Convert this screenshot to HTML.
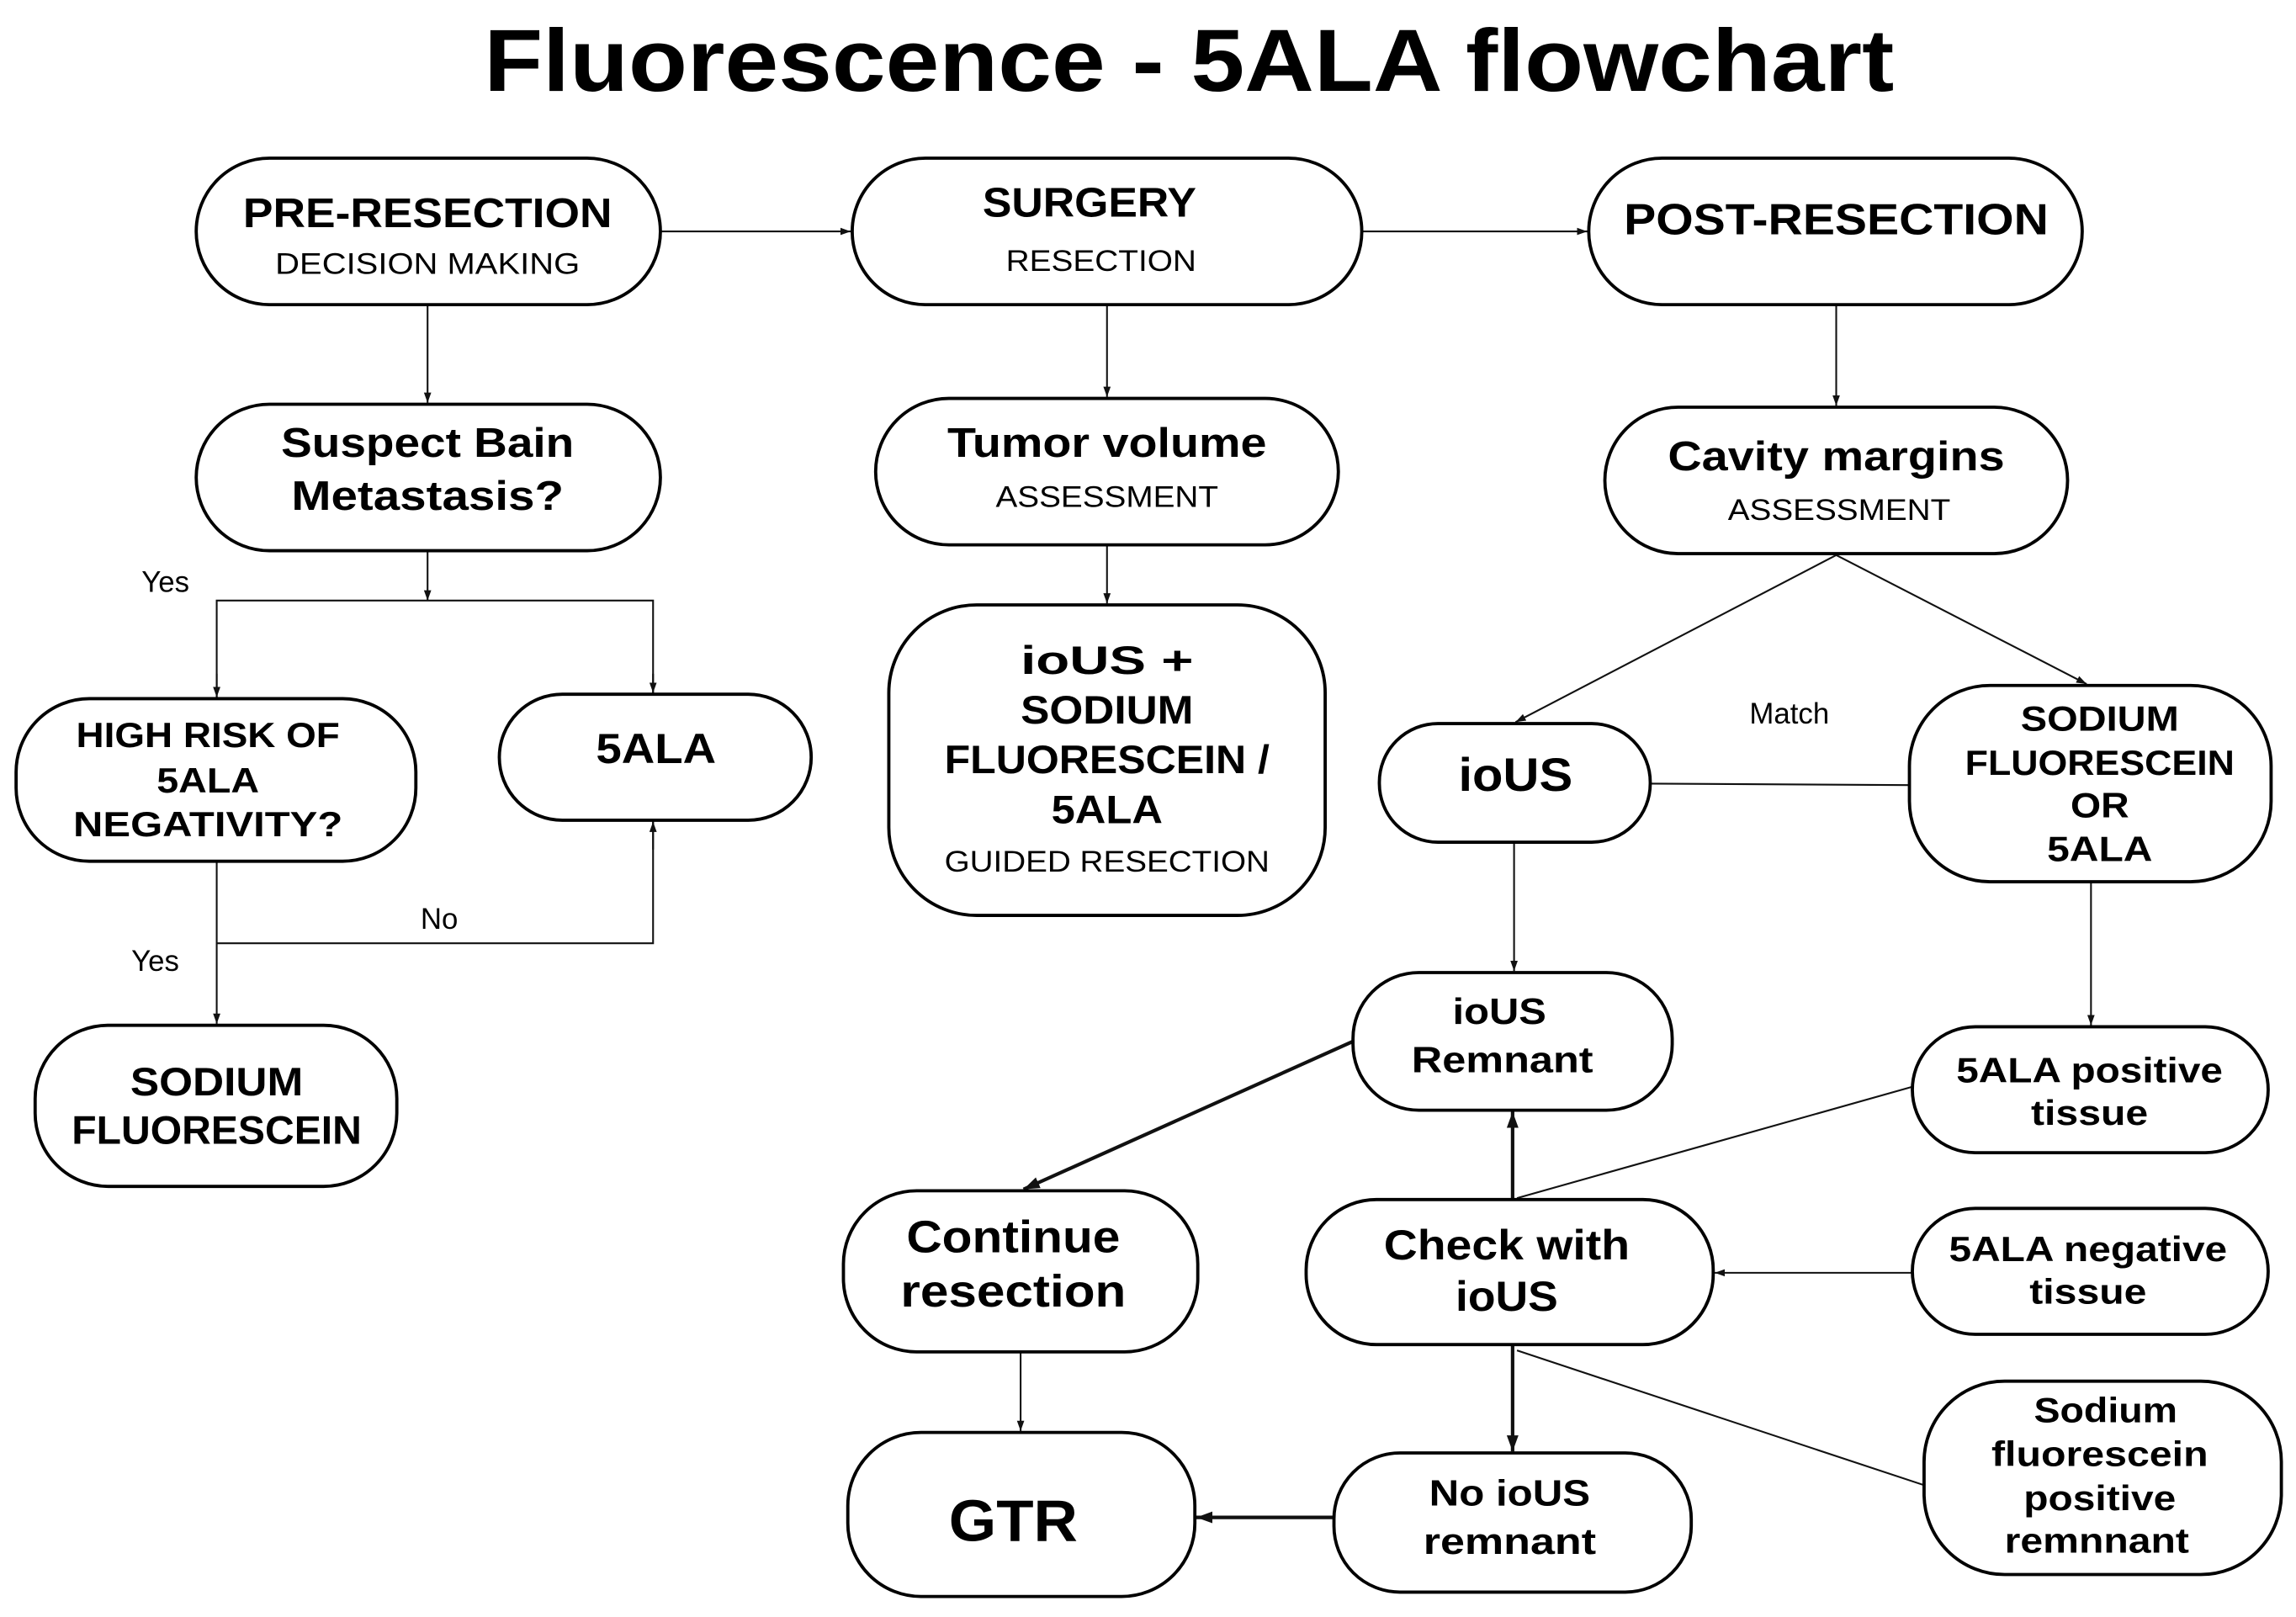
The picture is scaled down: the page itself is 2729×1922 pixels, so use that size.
<!DOCTYPE html>
<html><head><meta charset="utf-8"><style>
html,body{margin:0;padding:0;background:#fff;}
svg{display:block;}
text{font-family:"Liberation Sans",sans-serif;fill:#000;text-anchor:middle;}
.b{font-weight:bold;}
.box{fill:#fff;stroke:#000;stroke-width:2.2;}
.ln{stroke:#111;stroke-width:1.2;fill:none;}
.tk{stroke:#111;stroke-width:2.4;fill:none;}
</style></head><body>
<svg width="2729" height="1922" viewBox="0 0 1568 1104" preserveAspectRatio="none">
<defs>
<marker id="a" markerWidth="8" markerHeight="8" refX="7" refY="4" orient="auto" markerUnits="userSpaceOnUse"><path d="M0,1.5 L7,4 L0,6.5 z" fill="#111"/></marker>
<marker id="A" markerWidth="12" markerHeight="12" refX="11" refY="6" orient="auto" markerUnits="userSpaceOnUse"><path d="M0,2 L11,6 L0,10 z" fill="#111"/></marker>
</defs>
<text x="812" y="62" class="b" font-size="60" textLength="963" lengthAdjust="spacingAndGlyphs">Fluorescence - 5ALA flowchart</text>

<!-- connectors -->
<line class="ln" x1="451" y1="158" x2="581" y2="158" marker-end="url(#a)"/>
<line class="ln" x1="930" y1="158" x2="1084" y2="158" marker-end="url(#a)"/>
<line class="ln" x1="292" y1="208" x2="292" y2="275" marker-end="url(#a)"/>
<line class="ln" x1="756" y1="208" x2="756" y2="271" marker-end="url(#a)"/>
<line class="ln" x1="1254" y1="208" x2="1254" y2="277" marker-end="url(#a)"/>
<line class="ln" x1="292" y1="376" x2="292" y2="410" marker-end="url(#a)"/>
<polyline class="ln" points="148,476 148,410 446,410 446,473" />
<line class="ln" x1="148" y1="460" x2="148" y2="476" marker-end="url(#a)"/>
<line class="ln" x1="446" y1="460" x2="446" y2="473" marker-end="url(#a)"/>
<line class="ln" x1="148" y1="588" x2="148" y2="699" marker-end="url(#a)"/>
<polyline class="ln" points="148,644 446,644 446,561"/>
<line class="ln" x1="446" y1="580" x2="446" y2="561" marker-end="url(#a)"/>
<line class="ln" x1="756" y1="372" x2="756" y2="412" marker-end="url(#a)"/>
<line class="ln" x1="1254" y1="379" x2="1035" y2="493" marker-end="url(#a)"/>
<line class="ln" x1="1254" y1="379" x2="1425" y2="467" marker-end="url(#a)"/>
<line class="ln" x1="1127" y1="535" x2="1304" y2="536"/>
<line class="ln" x1="1034" y1="575" x2="1034" y2="663" marker-end="url(#a)"/>
<line class="ln" x1="1428" y1="602" x2="1428" y2="700" marker-end="url(#a)"/>
<line class="tk" x1="924" y1="711" x2="699" y2="812" marker-end="url(#A)"/>
<line class="tk" x1="1033" y1="819" x2="1033" y2="759" marker-end="url(#A)"/>
<line class="ln" x1="1306" y1="742" x2="1036" y2="818"/>
<line class="ln" x1="1306" y1="869" x2="1171" y2="869" marker-end="url(#a)"/>
<line class="tk" x1="1033" y1="918" x2="1033" y2="991" marker-end="url(#A)"/>
<line class="ln" x1="1036" y1="922" x2="1314" y2="1014"/>
<line class="ln" x1="697" y1="923" x2="697" y2="977" marker-end="url(#a)"/>
<line class="tk" x1="911" y1="1036" x2="817" y2="1036" marker-end="url(#A)"/>

<text x="113" y="404" font-size="20">Yes</text>
<text x="106" y="663" font-size="20">Yes</text>
<text x="300" y="634" font-size="20">No</text>
<text x="1222" y="494" font-size="20">Match</text>

<!-- nodes -->
<rect class="box" x="134" y="108" width="317" height="100" rx="50"/>
<text x="292" y="155" class="b" font-size="28" textLength="252" lengthAdjust="spacingAndGlyphs">PRE-RESECTION</text>
<text x="292" y="187" font-size="20" textLength="208" lengthAdjust="spacingAndGlyphs">DECISION MAKING</text>

<rect class="box" x="582" y="108" width="348" height="100" rx="50"/>
<text x="744" y="148" class="b" font-size="28" textLength="146" lengthAdjust="spacingAndGlyphs">SURGERY</text>
<text x="752" y="185" font-size="20" textLength="130" lengthAdjust="spacingAndGlyphs">RESECTION</text>

<rect class="box" x="1085" y="108" width="337" height="100" rx="50"/>
<text x="1254" y="160" class="b" font-size="30" textLength="290" lengthAdjust="spacingAndGlyphs">POST-RESECTION</text>

<rect class="box" x="134" y="276" width="317" height="100" rx="50"/>
<text x="292" y="312" class="b" font-size="28" textLength="200" lengthAdjust="spacingAndGlyphs">Suspect Bain</text>
<text x="292" y="348" class="b" font-size="28" textLength="186" lengthAdjust="spacingAndGlyphs">Metastasis?</text>

<rect class="box" x="598" y="272" width="316" height="100" rx="50"/>
<text x="756" y="312" class="b" font-size="28" textLength="218" lengthAdjust="spacingAndGlyphs">Tumor volume</text>
<text x="756" y="346" font-size="20" textLength="152" lengthAdjust="spacingAndGlyphs">ASSESSMENT</text>

<rect class="box" x="1096" y="278" width="316" height="100" rx="50"/>
<text x="1254" y="321" class="b" font-size="28" textLength="230" lengthAdjust="spacingAndGlyphs">Cavity margins</text>
<text x="1256" y="355" font-size="20" textLength="152" lengthAdjust="spacingAndGlyphs">ASSESSMENT</text>

<rect class="box" x="607" y="413" width="298" height="212" rx="60"/>
<text x="756" y="460" class="b" font-size="27" textLength="118" lengthAdjust="spacingAndGlyphs">ioUS +</text>
<text x="756" y="494" class="b" font-size="27" textLength="118" lengthAdjust="spacingAndGlyphs">SODIUM</text>
<text x="756" y="528" class="b" font-size="27" textLength="222" lengthAdjust="spacingAndGlyphs">FLUORESCEIN /</text>
<text x="756" y="562" class="b" font-size="27" textLength="76" lengthAdjust="spacingAndGlyphs">5ALA</text>
<text x="756" y="595" font-size="20" textLength="222" lengthAdjust="spacingAndGlyphs">GUIDED RESECTION</text>

<rect class="box" x="11" y="477" width="273" height="111" rx="50"/>
<text x="142" y="510" class="b" font-size="24" textLength="180" lengthAdjust="spacingAndGlyphs">HIGH RISK OF</text>
<text x="142" y="541" class="b" font-size="24" textLength="70" lengthAdjust="spacingAndGlyphs">5ALA</text>
<text x="142" y="571" class="b" font-size="24" textLength="184" lengthAdjust="spacingAndGlyphs">NEGATIVITY?</text>

<rect class="box" x="341" y="474" width="213" height="86" rx="43"/>
<text x="448" y="521" class="b" font-size="29" textLength="82" lengthAdjust="spacingAndGlyphs">5ALA</text>

<rect class="box" x="24" y="700" width="247" height="110" rx="50"/>
<text x="148" y="748" class="b" font-size="27" textLength="118" lengthAdjust="spacingAndGlyphs">SODIUM</text>
<text x="148" y="781" class="b" font-size="27" textLength="198" lengthAdjust="spacingAndGlyphs">FLUORESCEIN</text>

<rect class="box" x="942" y="494" width="185" height="81" rx="40"/>
<text x="1035" y="540" class="b" font-size="32" textLength="78" lengthAdjust="spacingAndGlyphs">ioUS</text>

<rect class="box" x="1304" y="468" width="247" height="134" rx="55"/>
<text x="1434" y="499" class="b" font-size="24" textLength="108" lengthAdjust="spacingAndGlyphs">SODIUM</text>
<text x="1434" y="529" class="b" font-size="24" textLength="184" lengthAdjust="spacingAndGlyphs">FLUORESCEIN</text>
<text x="1434" y="558" class="b" font-size="24" textLength="40" lengthAdjust="spacingAndGlyphs">OR</text>
<text x="1434" y="588" class="b" font-size="24" textLength="72" lengthAdjust="spacingAndGlyphs">5ALA</text>

<rect class="box" x="924" y="664" width="218" height="94" rx="45"/>
<text x="1024" y="699" class="b" font-size="25" textLength="64" lengthAdjust="spacingAndGlyphs">ioUS</text>
<text x="1026" y="732" class="b" font-size="25" textLength="124" lengthAdjust="spacingAndGlyphs">Remnant</text>

<rect class="box" x="1306" y="701" width="243" height="86" rx="43"/>
<text x="1427" y="739" class="b" font-size="24" textLength="182" lengthAdjust="spacingAndGlyphs">5ALA positive</text>
<text x="1427" y="768" class="b" font-size="24" textLength="80" lengthAdjust="spacingAndGlyphs">tissue</text>

<rect class="box" x="576" y="813" width="242" height="110" rx="50"/>
<text x="692" y="855" class="b" font-size="31" textLength="146" lengthAdjust="spacingAndGlyphs">Continue</text>
<text x="692" y="892" class="b" font-size="31" textLength="154" lengthAdjust="spacingAndGlyphs">resection</text>

<rect class="box" x="892" y="819" width="278" height="99" rx="48"/>
<text x="1029" y="860" class="b" font-size="29" textLength="168" lengthAdjust="spacingAndGlyphs">Check with</text>
<text x="1029" y="895" class="b" font-size="29" textLength="70" lengthAdjust="spacingAndGlyphs">ioUS</text>

<rect class="box" x="1306" y="825" width="243" height="86" rx="43"/>
<text x="1426" y="861" class="b" font-size="24" textLength="190" lengthAdjust="spacingAndGlyphs">5ALA negative</text>
<text x="1426" y="890" class="b" font-size="24" textLength="80" lengthAdjust="spacingAndGlyphs">tissue</text>

<rect class="box" x="579" y="978" width="237" height="112" rx="50"/>
<text x="692" y="1052" class="b" font-size="40" textLength="88" lengthAdjust="spacingAndGlyphs">GTR</text>

<rect class="box" x="911" y="992" width="244" height="95" rx="45"/>
<text x="1031" y="1028" class="b" font-size="25" textLength="110" lengthAdjust="spacingAndGlyphs">No ioUS</text>
<text x="1031" y="1061" class="b" font-size="25" textLength="118" lengthAdjust="spacingAndGlyphs">remnant</text>

<rect class="box" x="1314" y="943" width="244" height="132" rx="55"/>
<text x="1438" y="971" class="b" font-size="24" textLength="98" lengthAdjust="spacingAndGlyphs">Sodium</text>
<text x="1434" y="1001" class="b" font-size="24" textLength="148" lengthAdjust="spacingAndGlyphs">fluorescein</text>
<text x="1434" y="1031" class="b" font-size="24" textLength="104" lengthAdjust="spacingAndGlyphs">positive</text>
<text x="1432" y="1060" class="b" font-size="24" textLength="126" lengthAdjust="spacingAndGlyphs">remnnant</text>
</svg>
</body></html>
